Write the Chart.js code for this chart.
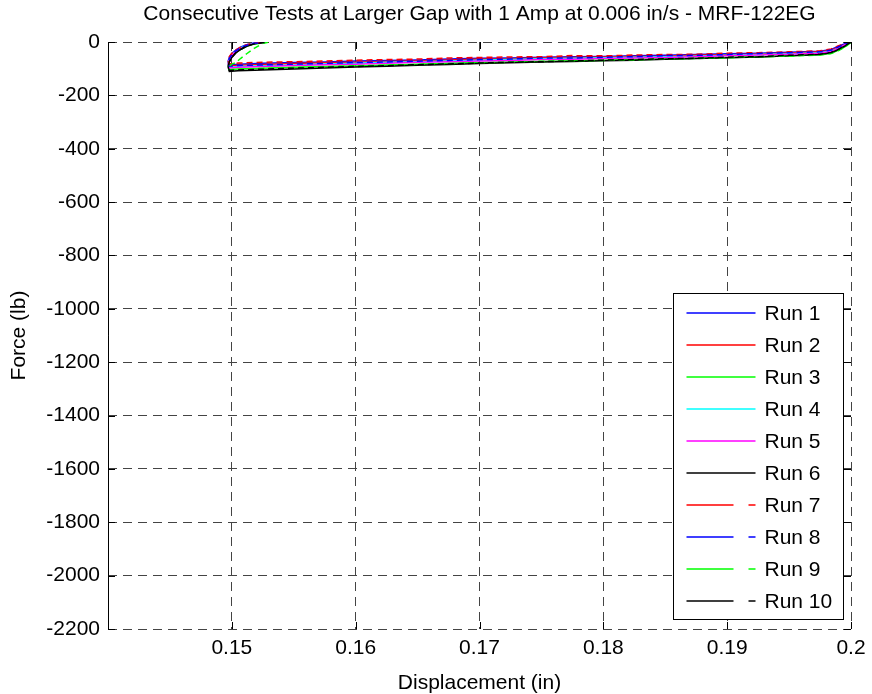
<!DOCTYPE html>
<html>
<head>
<meta charset="utf-8">
<title>MRF-122EG consecutive tests</title>
<script src="https://cdn.jsdelivr.net/npm/chart.js@4.4.1/dist/chart.umd.min.js"></script>
<style>
  html, body { margin: 0; padding: 0; background: #fff; }
  #wrap { width: 872px; height: 694px; }
</style>
</head>
<body>
<div id="wrap"><canvas id="forceChart" width="872" height="694"></canvas></div>
<script>
// displacement (in): compression stroke 0.2 -> 0.15, then the short return
const displacement = [
  0.2, 0.1996, 0.199, 0.1984, 0.1975, 0.195, 0.1925, 0.19, 0.1875, 0.185,
  0.1825, 0.18, 0.1775, 0.175, 0.1725, 0.17, 0.1675, 0.165, 0.1625, 0.16,
  0.1575, 0.155, 0.1525, 0.1505, 0.1498,
  0.1497, 0.1498, 0.15, 0.1503, 0.1507, 0.1512, 0.1518, 0.1525, 0.153
];

// force (lb) for each run, same sample points as displacement
const run1 = [0, -5, -16, -28, -35, -38, -42, -44, -47, -50, -52, -54, -55, -57, -60, -61, -64, -67, -69, -71, -75, -77, -80, -83, -86,
  -72, -57, -43, -31, -19, -10, -4, -1, 0];
const run2 = [0, -8, -19, -31, -37, -41, -45, -48, -49, -53, -54, -56, -58, -59, -63, -64, -67, -71, -73, -76, -78, -81, -84, -87, -90,
  -76, -61, -47, -34, -23, -13, -6, -2, 0];
const run3 = [0, -15, -30, -42, -48, -52, -56, -58, -61, -64, -66, -68, -70, -73, -75, -77, -80, -83, -86, -90, -92, -95, -98, -101, -103,
  -88, -72, -56, -41, -28, -16, -8, -3, 0];
const run4 = [0, -9, -22, -34, -40, -44, -47, -50, -53, -55, -57, -59, -61, -63, -66, -68, -71, -74, -76, -80, -82, -86, -89, -92, -95,
  -80, -63, -48, -35, -22, -12, -5, -1, 0];
const run5 = [0, -8, -23, -36, -42, -46, -49, -52, -55, -58, -60, -62, -65, -66, -69, -71, -74, -76, -80, -83, -85, -88, -92, -95, -97,
  -82, -66, -50, -37, -25, -14, -6, -2, 0];
const run6 = [0, -13, -28, -40, -47, -52, -56, -59, -62, -65, -68, -70, -73, -75, -78, -81, -84, -87, -91, -94, -97, -101, -105, -108, -110,
  -94, -75, -58, -42, -28, -16, -7, -2, 0];
const run7 = [0, -4, -14, -26, -33, -37, -40, -42, -46, -47, -49, -52, -51, -55, -56, -58, -60, -64, -66, -68, -71, -74, -76, -79, -82,
  -68, -55, -42, -30, -19, -10, -4, -1, 0];
const run8 = [0, -6, -18, -30, -37, -40, -43, -47, -50, -51, -55, -57, -60, -60, -64, -66, -69, -72, -75, -77, -80, -83, -86, -88, -91,
  -77, -62, -47, -34, -22, -12, -5, -2, 0];
const run9 = [0, -16, -32, -43, -49, -53, -55, -59, -62, -63, -67, -69, -71, -72, -76, -78, -81, -84, -87, -89, -93, -96, -99, -102, -104,
  -98, -90, -83, -78, -62, -44, -24, -5, 0];
const run10 = [0, -12, -27, -39, -46, -50, -55, -57, -61, -63, -66, -68, -71, -74, -76, -79, -82, -85, -89, -92, -95, -98, -102, -105, -107,
  -92, -74, -57, -41, -28, -15, -7, -2, 0];

const runLabels = ['Run 1', 'Run 2', 'Run 3', 'Run 4', 'Run 5', 'Run 6', 'Run 7', 'Run 8', 'Run 9', 'Run 10'];
const runForces = [run1, run2, run3, run4, run5, run6, run7, run8, run9, run10];
const runColors = ['#0000ff', '#ff0000', '#00ff00', '#00ffff', '#ff00ff', '#000000',
  '#ff0000', '#0000ff', '#00ff00', '#000000'];
const runDashed = [false, false, false, false, false, false, true, true, true, true];

const xTicks = [0.14, 0.15, 0.16, 0.17, 0.18, 0.19, 0.2];
const yTicks = [0, -200, -400, -600, -800, -1000, -1200, -1400, -1600, -1800, -2000, -2200];

const FONT = "'Liberation Sans', Arial, Helvetica, sans-serif";
const FONT_SIZE = 21;

// MATLAB-like frame: solid left axis, inward ticks, boxed legend, titles
const matlabFrame = {
  id: 'matlabFrame',
  afterDraw(chart) {
    const ctx = chart.ctx;
    const area = chart.chartArea;
    const xs = chart.scales.x;
    const ys = chart.scales.y;
    const px = v => Math.round(v) + 0.5;
    ctx.save();
    ctx.strokeStyle = '#000';
    ctx.lineWidth = 1;
    ctx.setLineDash([]);

    ctx.beginPath();
    ctx.moveTo(px(area.left), area.top);
    ctx.lineTo(px(area.left), area.bottom);
    ctx.stroke();

    const tl = 7;
    ctx.beginPath();
    yTicks.forEach(v => {
      const y = px(ys.getPixelForValue(v));
      ctx.moveTo(area.left, y); ctx.lineTo(area.left + tl, y);
      ctx.moveTo(area.right - tl, y); ctx.lineTo(area.right, y);
    });
    xTicks.forEach(v => {
      const x = px(xs.getPixelForValue(v));
      ctx.moveTo(x, area.bottom); ctx.lineTo(x, area.bottom - tl);
      ctx.moveTo(x, area.top); ctx.lineTo(x, area.top + tl);
    });
    ctx.stroke();

    // legend box in the lower right corner
    const lw = 170, lh = 326;
    const lx = Math.round(area.right - 8 - lw) + 0.5;
    const ly = Math.round(area.bottom - 10 - lh) + 0.5;
    ctx.fillStyle = '#fff';
    ctx.fillRect(lx, ly, lw, lh);
    ctx.strokeRect(lx, ly, lw, lh);
    ctx.font = FONT_SIZE + 'px ' + FONT;
    ctx.textBaseline = 'middle';
    ctx.textAlign = 'left';
    chart.data.datasets.forEach((ds, i) => {
      const rowY = Math.round(ly + 19 + i * 32);
      ctx.strokeStyle = ds.borderColor;
      ctx.lineWidth = 1.4;
      ctx.setLineDash(ds.borderDash && ds.borderDash.length ? [47, 15] : []);
      ctx.beginPath();
      ctx.moveTo(lx + 13, rowY);
      ctx.lineTo(lx + 82, rowY);
      ctx.stroke();
      ctx.setLineDash([]);
      ctx.fillStyle = '#000';
      ctx.fillText(ds.label, lx + 91, rowY + 1);
    });

    // title and axis labels
    ctx.fillStyle = '#000';
    ctx.textAlign = 'center';
    const cx = (area.left + area.right) / 2;
    ctx.fillText('Consecutive Tests at Larger Gap with 1 Amp at 0.006 in/s - MRF-122EG', cx, 14);
    ctx.fillText('Displacement (in)', cx, 683);
    ctx.translate(19, (area.top + area.bottom) / 2);
    ctx.rotate(-Math.PI / 2);
    ctx.fillText('Force (lb)', 0, 0);
    ctx.restore();
  }
};

const datasets = runForces.map((forces, i) => ({
  label: runLabels[i],
  data: forces.map((f, j) => ({ x: displacement[j], y: f })),
  borderColor: runColors[i],
  backgroundColor: runColors[i],
  borderWidth: 1.5,
  borderDash: runDashed[i] ? [6, 4] : [],
  pointRadius: 0,
  tension: 0,
  fill: false,
  order: runForces.length - 1 - i
}));

new Chart(document.getElementById('forceChart').getContext('2d'), {
  type: 'line',
  data: { datasets: datasets },
  options: {
    responsive: false,
    animation: false,
    layout: { padding: { top: 42, right: 21, bottom: 0, left: 0 } },
    plugins: {
      legend: { display: false },
      title: { display: false },
      tooltip: { enabled: false }
    },
    scales: {
      x: {
        type: 'linear',
        min: 0.14,
        max: 0.2,
        afterBuildTicks: scale => { scale.ticks = xTicks.map(v => ({ value: v })); },
        afterFit: scale => { scale.height = 65; scale.paddingLeft = 0; scale.paddingRight = 0; },
        ticks: {
          color: '#000',
          font: { family: FONT, size: FONT_SIZE },
          padding: 7,
          maxRotation: 0,
          callback: v => (Math.abs(v - 0.14) < 1e-9 ? '' : String(+v.toFixed(2)))
        },
        grid: { color: '#444', lineWidth: 1, drawTicks: false },
        border: { display: false, dash: [9, 6] }
      },
      y: {
        min: -2200,
        max: 0,
        afterBuildTicks: scale => { scale.ticks = yTicks.map(v => ({ value: v })); },
        afterFit: scale => { scale.width = 108; scale.paddingTop = 0; scale.paddingBottom = 0; },
        ticks: {
          color: '#000',
          font: { family: FONT, size: FONT_SIZE },
          padding: 8,
          callback: v => String(v)
        },
        grid: { color: '#444', lineWidth: 1, drawTicks: false },
        border: { display: false, dash: [9, 6] }
      }
    }
  },
  plugins: [matlabFrame]
});
</script>
</body>
</html>
